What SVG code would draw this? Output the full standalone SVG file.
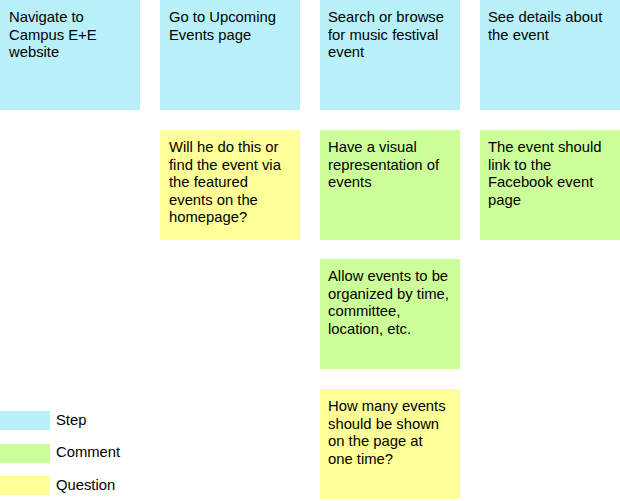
<svg xmlns="http://www.w3.org/2000/svg" width="620" height="501" viewBox="0 0 620 501">
<style>
text{font-family:"Liberation Sans",Arial,sans-serif;font-size:14.8px;fill:#000}
.step{fill:#b8f1f9}
.comment{fill:#ccff99}
.question{fill:#ffff99}
</style>
<rect width="620" height="501" fill="#fff"/>
<g id="connectors"/>
<g id="step1"><rect class="step" x="0" y="0" width="140" height="110"/><text x="9" y="22"><tspan x="9">Navigate to</tspan><tspan x="9" dy="17.5">Campus E+E</tspan><tspan x="9" dy="17.5">website</tspan></text></g>
<g id="step2"><rect class="step" x="160" y="0" width="140" height="110"/><text x="169" y="22"><tspan x="169">Go to Upcoming</tspan><tspan x="169" dy="17.5">Events page</tspan></text></g>
<g id="step3"><rect class="step" x="320" y="0" width="140" height="110"/><text x="328" y="22"><tspan x="328">Search or browse</tspan><tspan x="328" dy="17.5">for music festival</tspan><tspan x="328" dy="17.5">event</tspan></text></g>
<g id="step4"><rect class="step" x="480" y="0" width="140" height="110"/><text x="488" y="22"><tspan x="488">See details about</tspan><tspan x="488" dy="17.5">the event</tspan></text></g>
<g id="question1"><rect class="question" x="160" y="130" width="140" height="110"/><text x="169" y="152"><tspan x="169">Will he do this or</tspan><tspan x="169" dy="17.5">find the event via</tspan><tspan x="169" dy="17.5">the featured</tspan><tspan x="169" dy="17.5">events on the</tspan><tspan x="169" dy="17.5">homepage?</tspan></text></g>
<g id="comment1"><rect class="comment" x="320" y="130" width="140" height="110"/><text x="328" y="152"><tspan x="328">Have a visual</tspan><tspan x="328" dy="17.5">representation of</tspan><tspan x="328" dy="17.5">events</tspan></text></g>
<g id="comment2"><rect class="comment" x="480" y="130" width="140" height="110"/><text x="488" y="152"><tspan x="488">The event should</tspan><tspan x="488" dy="17.5">link to the</tspan><tspan x="488" dy="17.5">Facebook event</tspan><tspan x="488" dy="17.5">page</tspan></text></g>
<g id="comment3"><rect class="comment" x="320" y="259" width="140" height="110"/><text x="328" y="281"><tspan x="328">Allow events to be</tspan><tspan x="328" dy="17.5">organized by time,</tspan><tspan x="328" dy="17.5">committee,</tspan><tspan x="328" dy="17.5">location, etc.</tspan></text></g>
<g id="question2"><rect class="question" x="320" y="389" width="140" height="110"/><text x="328" y="411"><tspan x="328">How many events</tspan><tspan x="328" dy="17.5">should be shown</tspan><tspan x="328" dy="17.5">on the page at</tspan><tspan x="328" dy="17.5">one time?</tspan></text></g>
<g id="legend">
<rect class="step" x="0" y="411" width="50" height="19"/><text x="56" y="425">Step</text>
<rect class="comment" x="0" y="444" width="50" height="19"/><text x="56" y="457">Comment</text>
<rect class="question" x="0" y="476" width="50" height="19"/><text x="56" y="490">Question</text>
</g>
</svg>
